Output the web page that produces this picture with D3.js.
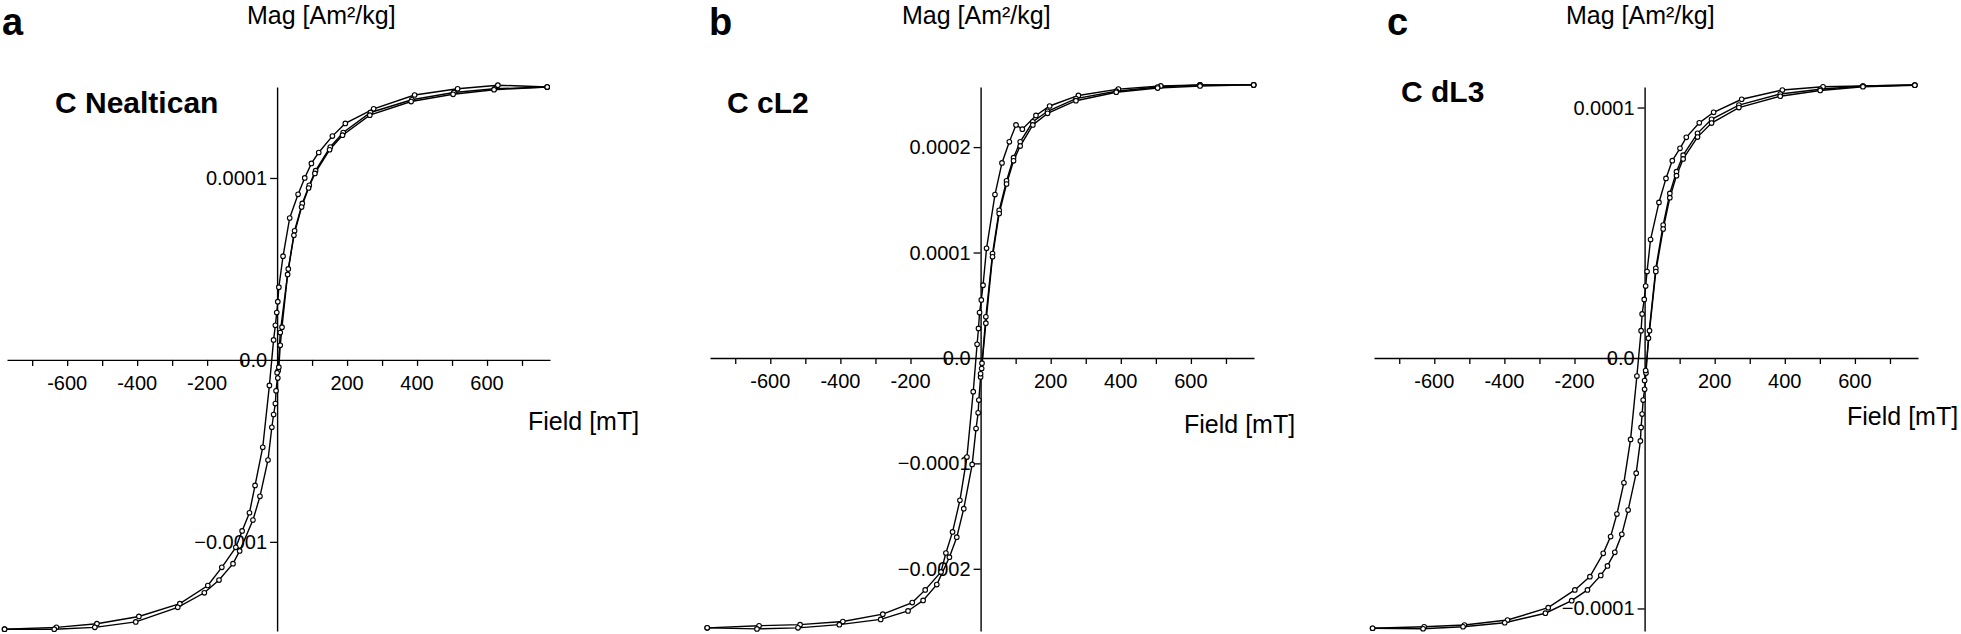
<!DOCTYPE html>
<html>
<head>
<meta charset="utf-8">
<script src="https://cdn.jsdelivr.net/npm/d3@7"></script>
<style>
  html, body { margin: 0; padding: 0; background: #fff; }
  svg { display: block; font-family: "Liberation Sans", Arial, Helvetica, sans-serif; }
</style>
</head>
<body>
<svg id="chart" width="1961" height="634"></svg>
<script>
// ---------------- DATA ----------------
const panelLetters = ["a", "b", "c"];
const sampleNames = ["C Nealtican", "C cL2", "C dL3"];
const yAxisTitle = "Mag [Am²/kg]";
const xAxisTitle = "Field [mT]";

const xDomain = [-772, 780];
const xTicks = [-700, -600, -500, -400, -300, -200, -100, 100, 200, 300, 400, 500, 600, 700];
const xTickLabels = [-600, -400, -200, 200, 400, 600];

// Panel a: C Nealtican
const aYDomain = [-1.49e-4, 1.50e-4];
const aYTicks = [-1e-4, 0, 1e-4];
const aUpperField = [772, 631, 516, 393, 276, 195, 158, 119, 98, 79, 60, 36, 17, 5, 2, -1, -5, -10, -22, -41, -63, -79, -100, -118, -158, -198, -278, -395, -515, -631, -779];
const aUpperMag = [1.50e-4, 1.51e-4, 1.49e-4, 1.456e-4, 1.38e-4, 1.30e-4, 1.23e-4, 1.14e-4, 1.08e-4, 1.00e-4, 0.91e-4, 0.78e-4, 0.57e-4, 0.40e-4, 0.32e-4, 0.26e-4, 0.19e-4, 0.11e-4, -0.14e-4, -0.48e-4, -0.69e-4, -0.84e-4, -0.94e-4, -1.03e-4, -1.14e-4, -1.24e-4, -1.34e-4, -1.41e-4, -1.45e-4, -1.47e-4, -1.48e-4];
const aLowerField = [-779, -637, -521, -404, -284, -208, -166, -126, -107, -69, -49, -26, -15, -10, -5, -3, 3, 9, 32, 50, 72, 92, 110, 152, 189, 267, 385, 505, 621, 772];
const aLowerMag = [-1.48e-4, -1.48e-4, -1.47e-4, -1.44e-4, -1.36e-4, -1.28e-4, -1.21e-4, -1.12e-4, -1.05e-4, -0.88e-4, -0.75e-4, -0.55e-4, -0.37e-4, -0.30e-4, -0.24e-4, -0.17e-4, -0.06e-4, 0.15e-4, 0.50e-4, 0.71e-4, 0.86e-4, 0.96e-4, 1.04e-4, 1.17e-4, 1.25e-4, 1.36e-4, 1.43e-4, 1.47e-4, 1.49e-4, 1.50e-4];
const aInitField = [0, 2, 5, 9, 14, 30, 48, 70, 90, 108, 150, 187, 265, 383, 503, 620, 772];
const aInitMag = [-0.07e-4, -0.10e-4, -0.04e-4, 0.08e-4, 0.18e-4, 0.47e-4, 0.685e-4, 0.84e-4, 0.945e-4, 1.025e-4, 1.155e-4, 1.235e-4, 1.345e-4, 1.42e-4, 1.46e-4, 1.485e-4, 1.50e-4];

// Panel b: C cL2
const bYDomain = [-2.59e-4, 2.57e-4];
const bYTicks = [-2e-4, -1e-4, 0, 1e-4, 2e-4];
const bUpperField = [779, 626, 514, 393, 279, 197, 158, 119, 101, 82, 61, 41, 17, 7, 2, -3, -6, -10, -21, -39, -59, -80, -99, -113, -158, -195, -279, -393, -515, -632, -780];
const bUpperMag = [2.59e-4, 2.59e-4, 2.58e-4, 2.55e-4, 2.49e-4, 2.39e-4, 2.30e-4, 2.17e-4, 2.21e-4, 2.05e-4, 1.85e-4, 1.55e-4, 1.04e-4, 0.69e-4, 0.55e-4, 0.43e-4, 0.28e-4, 0.13e-4, -0.32e-4, -0.94e-4, -1.35e-4, -1.65e-4, -1.85e-4, -2.03e-4, -2.20e-4, -2.32e-4, -2.43e-4, -2.50e-4, -2.53e-4, -2.54e-4, -2.56e-4];
const bLowerField = [-780, -638, -521, -403, -285, -207, -164, -125, -89, -68, -48, -24, -13, -7, -5, 0, 4, 15, 34, 53, 74, 94, 113, 149, 191, 272, 387, 505, 626, 779];
const bLowerMag = [-2.56e-4, -2.57e-4, -2.56e-4, -2.53e-4, -2.48e-4, -2.40e-4, -2.30e-4, -2.15e-4, -1.89e-4, -1.70e-4, -1.43e-4, -1.01e-4, -0.67e-4, -0.52e-4, -0.40e-4, -0.18e-4, -0.05e-4, 0.39e-4, 0.99e-4, 1.40e-4, 1.68e-4, 1.90e-4, 2.05e-4, 2.24e-4, 2.34e-4, 2.46e-4, 2.53e-4, 2.57e-4, 2.59e-4, 2.59e-4];
const bInitField = [0, 3, 15, 34, 53, 74, 94, 113, 149, 191, 272, 387, 505, 626, 779];
const bInitMag = [-0.15e-4, -0.10e-4, 0.33e-4, 0.96e-4, 1.37e-4, 1.65e-4, 1.87e-4, 2.01e-4, 2.21e-4, 2.32e-4, 2.44e-4, 2.52e-4, 2.56e-4, 2.58e-4, 2.59e-4];

// Panel c: C dL3
const cYDomain = [-1.09e-4, 1.082e-4];
const cYTicks = [-1e-4, 0, 1e-4];
const cUpperField = [771, 623, 509, 393, 277, 197, 156, 119, 101, 79, 61, 41, 17, 7, 3, -1, -7, -10, -22, -40, -59, -79, -97, -118, -156, -199, -275, -391, -514, -629, -776];
const cUpperMag = [1.090e-4, 1.086e-4, 1.083e-4, 1.070e-4, 1.033e-4, 0.981e-4, 0.939e-4, 0.881e-4, 0.837e-4, 0.788e-4, 0.717e-4, 0.621e-4, 0.473e-4, 0.345e-4, 0.287e-4, 0.234e-4, 0.176e-4, 0.109e-4, -0.072e-4, -0.325e-4, -0.498e-4, -0.623e-4, -0.713e-4, -0.780e-4, -0.873e-4, -0.926e-4, -0.997e-4, -1.046e-4, -1.066e-4, -1.073e-4, -1.079e-4];
const cLowerField = [-776, -632, -518, -399, -283, -208, -163, -125, -106, -85, -65, -47, -24, -12, -10, -7, -4, 0, 4, 11, 32, 53, 72, 91, 110, 151, 191, 269, 387, 501, 623, 771];
const cLowerMag = [-1.079e-4, -1.081e-4, -1.073e-4, -1.057e-4, -1.019e-4, -0.969e-4, -0.926e-4, -0.868e-4, -0.830e-4, -0.776e-4, -0.704e-4, -0.607e-4, -0.460e-4, -0.331e-4, -0.277e-4, -0.224e-4, -0.168e-4, -0.125e-4, -0.06e-4, 0.079e-4, 0.358e-4, 0.531e-4, 0.657e-4, 0.744e-4, 0.810e-4, 0.897e-4, 0.953e-4, 1.010e-4, 1.054e-4, 1.073e-4, 1.086e-4, 1.090e-4];
const cInitField = [0, 3, 14, 32, 53, 72, 91, 110, 151, 191, 269, 387, 501, 623, 771];
const cInitMag = [-0.09e-4, -0.05e-4, 0.109e-4, 0.345e-4, 0.515e-4, 0.640e-4, 0.728e-4, 0.795e-4, 0.882e-4, 0.938e-4, 1.000e-4, 1.045e-4, 1.068e-4, 1.083e-4, 1.089e-4];

// ---------------- LAYOUT ----------------
const layout = [
  { xRange: [7, 550],    letterX: 2,    nameX: 55,   nameY: 113, magX: 247,  fieldX: 528,  fieldY: 430 },
  { xRange: [710, 1254], letterX: 709,  nameX: 727,  nameY: 113, magX: 902,  fieldX: 1184, fieldY: 433 },
  { xRange: [1374, 1918],letterX: 1387, nameX: 1401, nameY: 102, magX: 1566, fieldX: 1847, fieldY: 425 }
];
const yRange = [631, 87];

const zip = (f, m) => f.map((v, i) => ({ f: v, m: m[i] }));
const panels = [
  { yDomain: aYDomain, yTicks: aYTicks, curves: [zip(aUpperField, aUpperMag), zip(aLowerField, aLowerMag), zip(aInitField, aInitMag)] },
  { yDomain: bYDomain, yTicks: bYTicks, curves: [zip(bUpperField, bUpperMag), zip(bLowerField, bLowerMag), zip(bInitField, bInitMag)] },
  { yDomain: cYDomain, yTicks: cYTicks, curves: [zip(cUpperField, cUpperMag), zip(cLowerField, cLowerMag), zip(cInitField, cInitMag)] }
];

const svg = d3.select("#chart");
const fmtY = v => v === 0 ? "0.0" : d3.format(".4f")(v);

panels.forEach((p, i) => {
  const L = layout[i];
  const x = d3.scaleLinear().domain(xDomain).range(L.xRange);
  const y = d3.scaleLinear().domain(p.yDomain).range(yRange);
  const g = svg.append("g");
  const x0 = x(0), y0 = y(0);

  // x axis (horizontal line at M = 0), ticks pointing down
  const xAxis = d3.axisBottom(x).tickValues(xTicks).tickSize(6).tickSizeOuter(0).tickFormat("");
  const gx = g.append("g").attr("transform", `translate(0,${y0})`).call(xAxis);
  gx.select(".domain").attr("stroke", "#000").attr("stroke-width", 1.4);
  gx.selectAll(".tick line").attr("stroke", "#000").attr("stroke-width", 1.3);
  g.selectAll(".xlab").data(xTickLabels).enter().append("text")
    .attr("x", d => x(d)).attr("y", y0 + 30)
    .attr("text-anchor", "middle").attr("font-size", 20).attr("fill", "#000")
    .text(d => d);

  // y axis (vertical line at Field = 0), ticks pointing left
  const yAxis = d3.axisLeft(y).tickValues(p.yTicks.filter(v => v !== 0)).tickSize(7).tickSizeOuter(0).tickFormat("");
  const gy = g.append("g").attr("transform", `translate(${x0},0)`).call(yAxis);
  gy.select(".domain").attr("stroke", "#000").attr("stroke-width", 1.4);
  gy.selectAll(".tick line").attr("stroke", "#000").attr("stroke-width", 1.3);
  g.selectAll(".ylab").data(p.yTicks).enter().append("text")
    .attr("x", x0 - 10).attr("y", d => y(d))
    .attr("dy", "0.35em").attr("text-anchor", "end")
    .attr("font-size", 20).attr("fill", "#000")
    .text(fmtY);

  // titles
  g.append("text").attr("x", L.letterX).attr("y", 35)
    .attr("font-size", 38).attr("font-weight", "bold").text(panelLetters[i]);
  g.append("text").attr("x", L.magX).attr("y", 24)
    .attr("font-size", 25).text(yAxisTitle);
  g.append("text").attr("x", L.nameX).attr("y", L.nameY)
    .attr("font-size", 30).attr("font-weight", "bold").text(sampleNames[i]);
  g.append("text").attr("x", L.fieldX).attr("y", L.fieldY)
    .attr("font-size", 25).text(xAxisTitle);

  // curves
  const line = d3.line().x(d => x(d.f)).y(d => y(d.m));
  p.curves.forEach(c => {
    g.append("path").datum(c).attr("d", line)
      .attr("fill", "none").attr("stroke", "#000").attr("stroke-width", 1.4);
  });
  p.curves.forEach(c => {
    g.selectAll(null).data(c).enter().append("circle")
      .attr("cx", d => x(d.f)).attr("cy", d => y(d.m)).attr("r", 2.3)
      .attr("fill", "#fff").attr("stroke", "#000").attr("stroke-width", 1.1);
  });
});
</script>
</body>
</html>
